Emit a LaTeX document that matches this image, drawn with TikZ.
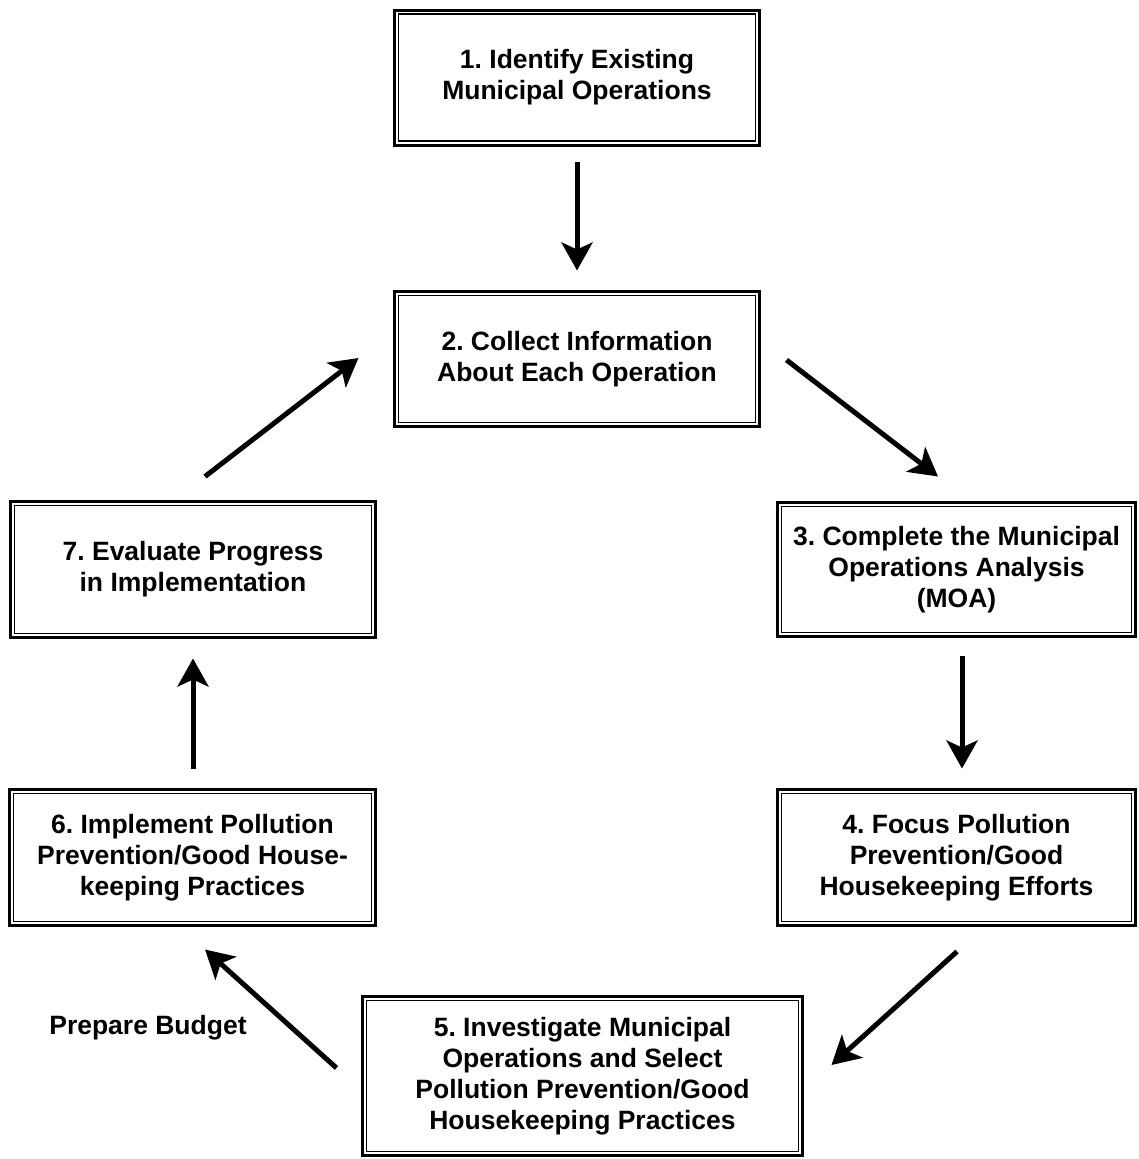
\documentclass[tikz,border=0pt]{standalone}
\usepackage{fontspec}
\setmainfont{Liberation Sans}
\usetikzlibrary{arrows.meta,calc}
\frenchspacing
\tikzset{
  box/.style={draw, line width=3pt, inner sep=0pt, align=center,
    font=\fontsize{26.5}{31}\selectfont\bfseries\frenchspacing},
  lbl/.style={inner sep=0pt, font=\fontsize{26.5}{31}\selectfont\bfseries},
  arr/.style={line width=5pt, -{Stealth[length=28pt,width=31pt,inset=7pt]}},
}
\begin{document}
\begin{tikzpicture}[x=1pt,y=-1pt]
\useasboundingbox[fill=white] (0,0) rectangle (1139,1159);
\node[box, minimum width=365pt, minimum height=135pt] (b1) at (577,77.5)
  {1. Identify Existing\\Municipal Operations};
\node[box, minimum width=365pt, minimum height=135pt] (b2) at (577,359)
  {2. Collect Information\\About Each Operation};
\node[box, minimum width=358pt, minimum height=134pt] (b3) at (956.5,569.5)
  {3. Complete the Municipal\\Operations Analysis\\(MOA)};
\node[box, minimum width=358pt, minimum height=136pt] (b4) at (956.5,857.5)
  {4. Focus Pollution\\Prevention/Good\\Housekeeping Efforts};
\node[box, minimum width=440pt, minimum height=159pt] (b5) at (582.5,1076)
  {5. Investigate Municipal\\Operations and Select\\Pollution Prevention/Good\\Housekeeping Practices};
\node[box, minimum width=366pt, minimum height=136pt] (b6) at (192.5,857.5)
  {6. Implement Pollution\\Prevention/Good House-\\keeping Practices};
\node[box, minimum width=365pt, minimum height=136pt] (b7) at (193,569.5)
  {7. Evaluate Progress\\in Implementation};
\foreach \n in {b1,b2,b3,b4,b5,b6,b7}
  \draw[line width=1.5pt] ($(\n.north west)+(5.5pt,-5.5pt)$) rectangle ($(\n.south east)+(-5.5pt,5.5pt)$);
\node[lbl] (pb) at (148,1028) {Prepare Budget};
\draw[arr, shorten <=15.5pt, shorten >=19.5pt] (b1.south) -- (b2.north);
\draw[arr] ($(b2.east)+(25.5,1)$) -- ($(b3.north)+(-18.5,-24.5)$);
\draw[arr, shorten <=18pt, shorten >=19.5pt] ($(b3.south)+(5.5,0)$) -- ($(b4.north)+(5.5,0)$);
\draw[arr] ($(b4.south)+(0.5,24.5)$) -- ($(b5.east)+(27.5,-11)$);
\draw[arr] ($(b5.west)+(-24.5,-8)$) -- ($(b6.south)+(12.5,22.5)$);
\draw[arr, shorten <=19.5pt, shorten >=19.5pt] ($(b6.north)+(0.5,0)$) -- (b7.south);
\draw[arr] ($(b7.north)+(12,-23.5)$) -- ($(b2.west)+(-34.5,-1)$);
\end{tikzpicture}
\end{document}
